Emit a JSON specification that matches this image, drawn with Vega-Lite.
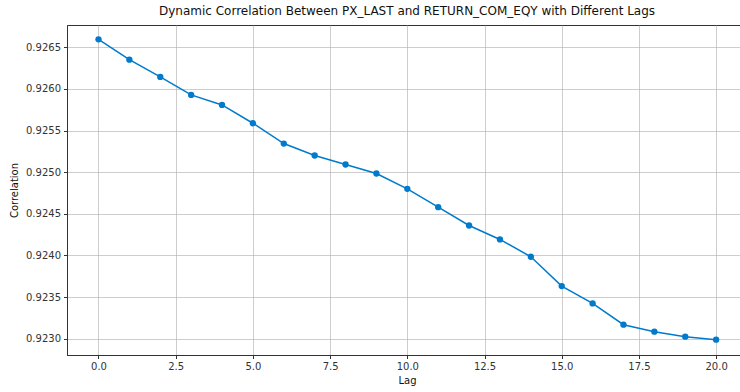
{
  "$schema": "https://vega.github.io/schema/vega-lite/v6.json",
  "autosize": "none",
  "padding": {"left": 67, "top": 25, "right": 0, "bottom": 37},
  "width": 680,
  "height": 330,
  "background": "white",
  "config": {
    "font": "DejaVu Sans",
    "view": {"stroke": "#333333", "strokeWidth": 1},
    "axis": {
      "labelFont": "DejaVu Sans",
      "titleFont": "DejaVu Sans",
      "labelFontSize": 10,
      "titleFontSize": 10,
      "titleFontWeight": "normal",
      "labelColor": "#333333",
      "titleColor": "#111111",
      "gridColor": "#b0b0b0",
      "gridWidth": 0.8,
      "gridOpacity": 0.8,
      "tickColor": "#333333",
      "tickSize": 3.5,
      "domainColor": "#333333",
      "labelPadding": 3
    }
  },
  "title": {
    "text": "Dynamic Correlation Between PX_LAST and RETURN_COM_EQY with Different Lags",
    "font": "DejaVu Sans",
    "fontSize": 12,
    "fontWeight": "normal",
    "color": "#111111",
    "anchor": "middle",
    "offset": 7
  },
  "data": {
    "values": [
      {"Lag": 0, "Correlation": 0.926596},
      {"Lag": 1, "Correlation": 0.926352},
      {"Lag": 2, "Correlation": 0.926144},
      {"Lag": 3, "Correlation": 0.925928},
      {"Lag": 4, "Correlation": 0.925808},
      {"Lag": 5, "Correlation": 0.925588},
      {"Lag": 6, "Correlation": 0.925344},
      {"Lag": 7, "Correlation": 0.9252},
      {"Lag": 8, "Correlation": 0.925092},
      {"Lag": 9, "Correlation": 0.924984},
      {"Lag": 10, "Correlation": 0.9248},
      {"Lag": 11, "Correlation": 0.92458},
      {"Lag": 12, "Correlation": 0.92436},
      {"Lag": 13, "Correlation": 0.924192},
      {"Lag": 14, "Correlation": 0.923984},
      {"Lag": 15, "Correlation": 0.923632},
      {"Lag": 16, "Correlation": 0.923424},
      {"Lag": 17, "Correlation": 0.923168},
      {"Lag": 18, "Correlation": 0.923084},
      {"Lag": 19, "Correlation": 0.923024},
      {"Lag": 20, "Correlation": 0.922988}
    ]
  },
  "encoding": {
    "x": {
      "field": "Lag",
      "type": "quantitative",
      "scale": {"domain": [-1.02, 21], "nice": false, "zero": false},
      "axis": {"values": [0, 2.5, 5, 7.5, 10, 12.5, 15, 17.5, 20], "format": ".1f", "title": "Lag", "titlePadding": 4}
    },
    "y": {
      "field": "Correlation",
      "type": "quantitative",
      "scale": {"domain": [0.922804, 0.926768], "nice": false, "zero": false},
      "axis": {"values": [0.923, 0.9235, 0.924, 0.9245, 0.925, 0.9255, 0.926, 0.9265], "format": ".4f", "title": "Correlation", "titlePadding": 6}
    }
  },
  "layer": [
    {"mark": {"type": "line", "color": "#007acc", "strokeWidth": 1.5}},
    {"mark": {"type": "point", "filled": true, "color": "#007acc", "opacity": 1, "size": 40}}
  ]
}
